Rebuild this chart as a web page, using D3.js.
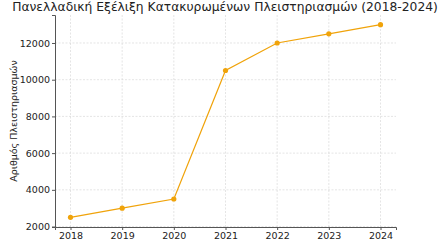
<!DOCTYPE html>
<html>
<head>
<meta charset="utf-8">
<script src="https://cdn.jsdelivr.net/npm/d3@7.9.0/dist/d3.min.js"></script>
<style>
  body { margin: 0; background: #fff; }
  svg { display: block; font-family: "DejaVu Sans", sans-serif; }
</style>
</head>
<body>
<svg id="chart" width="440" height="240"></svg>
<script>
const years = [2018, 2019, 2020, 2021, 2022, 2023, 2024];
const auctions = [2500, 3000, 3500, 10500, 12000, 12500, 13000];
const yTicks = [2000, 4000, 6000, 8000, 10000, 12000];
const title = "Πανελλαδική Εξέλιξη Κατακυρωμένων Πλειστηριασμών (2018-2024)";
const yLabel = "Αριθμός Πλειστηριασμών";

const svg = d3.select("#chart");
const margin = { top: 15, right: 44, bottom: 13, left: 55 };
const width = +svg.attr("width") - margin.left - margin.right;
const height = +svg.attr("height") - margin.top - margin.bottom;
const g = svg.append("g").attr("transform", `translate(${margin.left},${margin.top})`);

const x = d3.scaleLinear().domain([2017.7, 2024.3]).range([0, width]);
const y = d3.scaleLinear().domain([1975, 13525]).range([height, 0]);

// grid
g.append("g").selectAll("line").data(years).join("line")
  .attr("x1", d => x(d)).attr("x2", d => x(d))
  .attr("y1", 0).attr("y2", height)
  .attr("stroke", "#d4d4d4").attr("stroke-width", 0.6).attr("stroke-dasharray", "2 1.5");
g.append("g").selectAll("line").data(yTicks).join("line")
  .attr("x1", 0).attr("x2", width)
  .attr("y1", d => y(d)).attr("y2", d => y(d))
  .attr("stroke", "#d4d4d4").attr("stroke-width", 0.6).attr("stroke-dasharray", "2 1.5");

const xAxis = g.append("g").attr("transform", `translate(0,${height})`)
  .call(d3.axisBottom(x).tickValues(years).tickFormat(d3.format("d")).tickSize(3).tickPadding(2));
const yAxis = g.append("g")
  .call(d3.axisLeft(y).tickValues(yTicks).tickFormat(d3.format("d")).tickSize(3).tickPadding(2));
[xAxis, yAxis].forEach(a => {
  a.select(".domain").attr("stroke", "#555").attr("stroke-width", 1);
  a.selectAll(".tick line").attr("stroke", "#555");
  a.selectAll("text").attr("fill", "#222").style("font-size", "9.5px").style("font-family", "DejaVu Sans");
});

const line = d3.line().x((d, i) => x(years[i])).y(d => y(d));
g.append("path").datum(auctions)
  .attr("fill", "none").attr("stroke", "#f0a30a").attr("stroke-width", 1.2)
  .attr("d", line);
g.selectAll(".pt").data(auctions).join("circle")
  .attr("class", "pt")
  .attr("cx", (d, i) => x(years[i])).attr("cy", d => y(d))
  .attr("r", 2.6).attr("fill", "#f0a30a");

svg.append("text")
  .attr("x", 225).attr("y", 11)
  .attr("text-anchor", "middle")
  .style("font-size", "12.3px").attr("fill", "#222")
  .text(title);

svg.append("text")
  .attr("transform", `translate(17,${margin.top + height / 2}) rotate(-90)`)
  .attr("text-anchor", "middle")
  .style("font-size", "9.5px").attr("fill", "#222")
  .text(yLabel);
</script>
</body>
</html>
